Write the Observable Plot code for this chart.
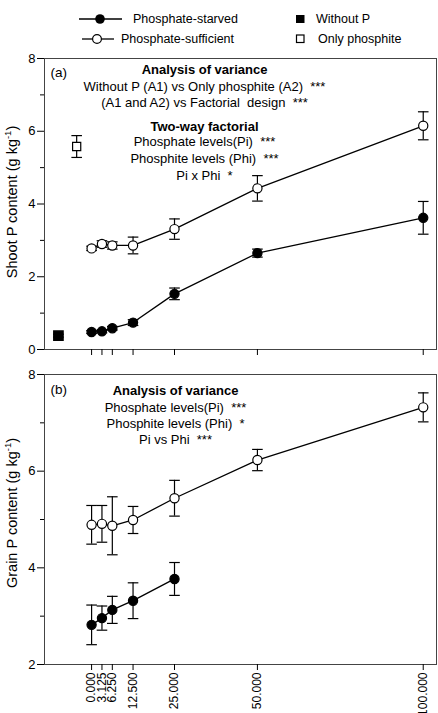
<!DOCTYPE html>
<html>
<head>
<meta charset="utf-8">
<script src="https://cdn.jsdelivr.net/npm/d3@7"></script>
<script src="https://cdn.jsdelivr.net/npm/@observablehq/plot@0.6"></script>
<style>
  body { margin: 0; background: #fff; }
  #wrap { position: relative; width: 438px; height: 713px; overflow: hidden; color: #000;
          font-family: "Liberation Sans", Arial, sans-serif; }
  #legend { position: absolute; left: 0; top: 0; }
  #a { position: absolute; left: 0; top: 48px; }
  #b { position: absolute; left: 0; top: 360px; }
  svg text { white-space: pre; }
</style>
</head>
<body>
<div id="wrap">
  <svg id="legend" width="438" height="48" font-family="Liberation Sans, Arial, sans-serif" font-size="12.5">
    <line x1="79" x2="122" y1="19" y2="19" stroke="#000" stroke-width="1.3"></line>
    <circle cx="100" cy="19" r="4.8" fill="#000"></circle>
    <text x="133" y="19" dominant-baseline="central">Phosphate-starved</text>
    <line x1="82" x2="114" y1="39" y2="39" stroke="#000" stroke-width="1.3"></line>
    <circle cx="97" cy="39" r="4.4" fill="#fff" stroke="#000" stroke-width="1.2"></circle>
    <text x="121" y="39" dominant-baseline="central">Phosphate-sufficient</text>
    <rect x="296" y="15" width="8.5" height="8" fill="#000"></rect>
    <text x="316" y="19" dominant-baseline="central">Without P</text>
    <rect x="296.5" y="35" width="7.5" height="7.5" fill="#fff" stroke="#000" stroke-width="1.2"></rect>
    <text x="318" y="38.5" dominant-baseline="central">Only phosphite</text>
  </svg>
  <div id="a"></div>
  <div id="b"></div>
</div>
<script>
// Phosphite levels applied (x axis) and their printed labels
const phosphite = [0, 3.125, 6.25, 12.5, 25, 50, 100];
const tickLabels = ["0.000", "3.125", "6.250", "12.500", "25.000", "50.000", "100.000"];

// Shoot P content (g/kg), mean and error
const shootStarved = [0.48, 0.50, 0.585, 0.74, 1.53, 2.65, 3.62];
const shootStarvedErr = [0.04, 0.04, 0.05, 0.08, 0.16, 0.11, 0.45];
const shootSufficient = [2.78, 2.90, 2.86, 2.86, 3.31, 4.43, 6.15];
const shootSufficientErr = [0.06, 0.09, 0.10, 0.23, 0.28, 0.35, 0.385];

// Control treatments, drawn left of the factorial levels
const controlGroups = ["Without P", "Only phosphite"];
const controlX = [-10, -4.5];
const shootControl = [0.38, 5.58];
const shootControlErr = [0.04, 0.30];

// Grain P content (g/kg), mean and error
const grainStarved = [2.82, 2.96, 3.13, 3.32, 3.77];
const grainStarvedErr = [0.41, 0.25, 0.28, 0.37, 0.34];
const grainSufficient = [4.89, 4.91, 4.87, 4.99, 5.44, 6.23, 7.32];
const grainSufficientErr = [0.40, 0.38, 0.60, 0.28, 0.37, 0.22, 0.30];

// Y axis ticks
const shootTicks = [0, 2, 4, 6, 8];
const shootMinor = [1, 3, 5, 7];
const grainTicks = [2, 4, 6, 8];
const grainMinor = [3, 5, 7];

// Statistics annotations
const anovaShoot = [
  "Analysis of variance",
  "Without P (A1) vs Only phosphite (A2)  ***",
  "(A1 and A2) vs Factorial  design  ***",
  "Two-way factorial",
  "Phosphate levels(Pi)  ***",
  "Phosphite levels (Phi)  ***",
  "Pi x Phi  *"
];
const anovaGrain = [
  "Analysis of variance",
  "Phosphate levels(Pi)  ***",
  "Phosphite levels (Phi)  *",
  "Pi vs Phi  ***"
];

const FONT = "Liberation Sans, Arial, sans-serif";

function rows(xs, values, errs) {
  return values.map((v, i) => ({x: xs[i], y: v, lo: v - errs[i], hi: v + errs[i]}));
}

// horizontal bar used as an error-bar cap
const cap = {
  draw(ctx, size) {
    const w = Math.sqrt(size / Math.PI);
    ctx.moveTo(-w, 0);
    ctx.lineTo(w, 0);
  }
};

function errorBars(data) {
  return [
    Plot.ruleX(data, {x: "x", y1: "lo", y2: "hi", stroke: "#000", strokeWidth: 1.2}),
    Plot.dot(data, {x: "x", y: "lo", symbol: cap, r: 5.3, stroke: "#000", strokeWidth: 1.2, fill: "none"}),
    Plot.dot(data, {x: "x", y: "hi", symbol: cap, r: 5.3, stroke: "#000", strokeWidth: 1.2, fill: "none"})
  ];
}

function series(data, filled) {
  return [
    Plot.line(data, {x: "x", y: "y", stroke: "#000", strokeWidth: 1.3}),
    ...errorBars(data),
    Plot.dot(data, {x: "x", y: "y", r: 4.6, fill: filled ? "#000" : "#fff", stroke: "#000", strokeWidth: 1.2})
  ];
}

function yAxes(major, minor) {
  return [
    Plot.axisY({ticks: major, tickSize: 7, tickPadding: 2, fontSize: 13, tickFormat: d => String(d), label: null}),
    Plot.axisY({ticks: minor, tickSize: 4, tickFormat: () => "", label: null})
  ];
}

function annotations(lines, boldIdx, dx, dys) {
  return lines.map((t, i) => Plot.text([t], {
    frameAnchor: "top-left", text: d => d, dx, dy: dys[i],
    textAnchor: "middle", lineAnchor: "middle",
    fontSize: 13, fontWeight: boldIdx.includes(i) ? "bold" : "normal", fill: "#000"
  }));
}

function panelLabel(t, dy) {
  return Plot.text([t], {frameAnchor: "top-left", text: d => d, dx: 6, dy,
    textAnchor: "start", lineAnchor: "middle", fontSize: 13.5, fill: "#000"});
}

function yLabel(svg, main, cy) {
  const t = d3.select(svg).append("text")
    .attr("transform", `translate(16.5,${cy}) rotate(-90)`)
    .attr("text-anchor", "middle")
    .attr("font-family", FONT)
    .attr("font-size", 14.5)
    .attr("fill", "#000");
  t.append("tspan").text(main + " (g kg");
  t.append("tspan").attr("dy", -6).attr("font-size", 9.5).text("-1");
  t.append("tspan").attr("dy", 6).text(")");
}

const xScale = {type: "linear", domain: [-14.2, 104]};

// Panel (a): shoot
const starvedA = rows(phosphite, shootStarved, shootStarvedErr);
const sufficientA = rows(phosphite, shootSufficient, shootSufficientErr);
const withoutP = rows([controlX[0]], [shootControl[0]], [shootControlErr[0]]);
const onlyPhi = rows([controlX[1]], [shootControl[1]], [shootControlErr[1]]);

const plotA = Plot.plot({
  width: 438, height: 312,
  marginLeft: 44, marginRight: 2, marginTop: 10, marginBottom: 11,
  style: {fontFamily: FONT, fontSize: "12px", background: "#fff", color: "#000"},
  x: xScale,
  y: {domain: [0, 8]},
  marks: [
    Plot.frame({stroke: "#444", strokeWidth: 1}),
    ...yAxes(shootTicks, shootMinor),
    Plot.axisX({ticks: phosphite, tickSize: 6, tickFormat: () => "", label: null}),
    ...annotations(anovaShoot, [0, 3], 160, [11, 28, 44.5, 68, 83.5, 100, 117]),
    panelLabel("(a)", 14),
    ...series(sufficientA, false),
    ...series(starvedA, true),
    ...errorBars(withoutP),
    Plot.dot(withoutP, {x: "x", y: "y", symbol: "square", r: 5.2, fill: "#000", stroke: "#000"}),
    ...errorBars(onlyPhi),
    Plot.dot(onlyPhi, {x: "x", y: "y", symbol: "square", r: 4.6, fill: "#fff", stroke: "#000", strokeWidth: 1.2})
  ]
});
yLabel(plotA, "Shoot P content", 154);
document.getElementById("a").appendChild(plotA);

// Panel (b): grain
const starvedB = rows(phosphite, grainStarved, grainStarvedErr);
const sufficientB = rows(phosphite, grainSufficient, grainSufficientErr);

const plotB = Plot.plot({
  width: 438, height: 353,
  marginLeft: 44, marginRight: 2, marginTop: 14, marginBottom: 49,
  style: {fontFamily: FONT, fontSize: "12px", background: "#fff", color: "#000", overflow: "visible"},
  x: xScale,
  y: {domain: [2, 8]},
  marks: [
    Plot.frame({stroke: "#444", strokeWidth: 1}),
    ...yAxes(grainTicks, grainMinor),
    Plot.axisX({ticks: phosphite, tickSize: 6, tickPadding: 2, tickRotate: -90, fontSize: 12,
      tickFormat: d => tickLabels[phosphite.indexOf(d)], label: null}),
    ...annotations(anovaGrain, [0], 131, [16.5, 33, 49, 65]),
    panelLabel("(b)", 15),
    ...series(sufficientB, false),
    ...series(starvedB, true)
  ]
});
yLabel(plotB, "Grain P content", 153);
document.getElementById("b").appendChild(plotB);
</script>
</body>
</html>
